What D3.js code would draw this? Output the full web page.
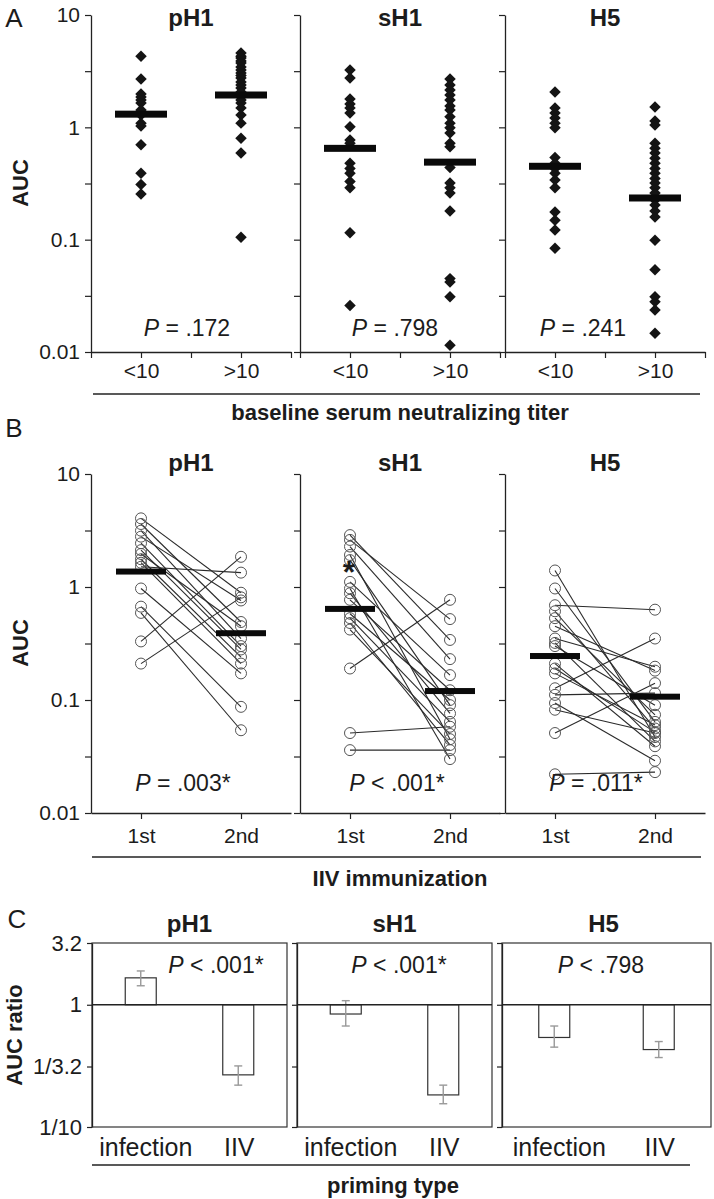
<!DOCTYPE html>
<html><head><meta charset="utf-8">
<script src="https://cdn.jsdelivr.net/npm/d3@7"></script>
<style>
body{margin:0;background:#fff}
svg text{font-family:"Liberation Sans",Arial,Helvetica,sans-serif;fill:#1c1c1c}
</style>
</head><body>
<svg id="chart" width="714" height="1199"></svg>
<script>
// ---------------- DATA ----------------
const strains = ["pH1", "sH1", "H5"];

// Panel A: AUC by baseline serum neutralizing titer
const aGroups = ["<10", ">10"];
const aLow_pH1  = [4.3, 2.69, 1.98, 1.86, 1.75, 1.65, 1.43, 1.29, 1.09, 1.03, 0.70, 0.39, 0.31, 0.255];
const aHigh_pH1 = [4.59, 4.3, 4.14, 3.9, 3.74, 3.44, 3.24, 3.05, 2.9, 2.75, 2.53, 2.38, 2.24, 2.06, 1.86, 1.75, 1.65, 1.49, 1.29, 1.09, 0.80, 0.59, 0.105];
const aLow_sH1  = [3.24, 2.75, 1.79, 1.61, 1.49, 1.34, 1.01, 0.77, 0.72, 0.48, 0.43, 0.39, 0.33, 0.29, 0.115, 0.026];
const aHigh_sH1 = [2.69, 2.38, 2.15, 1.94, 1.75, 1.55, 1.43, 1.24, 1.09, 0.99, 0.89, 0.72, 0.67, 0.44, 0.32, 0.29, 0.26, 0.18, 0.045, 0.042, 0.031, 0.0115];
const aLow_H5   = [2.06, 1.49, 1.34, 1.21, 1.09, 0.99, 0.54, 0.48, 0.43, 0.39, 0.34, 0.29, 0.176, 0.149, 0.122, 0.084];
const aHigh_H5  = [1.52, 1.14, 1.05, 0.72, 0.65, 0.59, 0.53, 0.48, 0.43, 0.39, 0.35, 0.32, 0.29, 0.26, 0.225, 0.203, 0.18, 0.159, 0.099, 0.054, 0.031, 0.028, 0.0236, 0.0147];
const aMedians  = [[1.31, 1.94], [0.65, 0.49], [0.45, 0.235]];
const aPvalues  = ["= .172", "= .798", "= .241"];

// Panel B: AUC after 1st and 2nd IIV immunization (paired by index)
const bGroups = ["1st", "2nd"];
const b1st_pH1 = [4.05, 3.61, 3.15, 2.79, 2.44, 2.12, 1.96, 1.76, 1.64, 1.51, 0.97, 0.67, 0.59, 0.33, 0.21];
const b2nd_pH1 = [0.89, 0.49, 0.35, 0.76, 0.30, 0.28, 0.45, 0.24, 0.21, 1.34, 0.172, 0.087, 0.054, 1.85, 0.81];
const b1st_sH1 = [2.88, 2.61, 2.28, 1.92, 1.73, 1.11, 0.97, 0.88, 0.77, 0.58, 0.53, 0.48, 0.42, 0.19, 0.051, 0.036];
const b2nd_sH1 = [0.34, 0.52, 0.23, 0.045, 0.09, 0.166, 0.030, 0.076, 0.122, 0.10, 0.064, 0.040, 0.050, 0.77, 0.058, 0.036];
const b1st_H5  = [1.40, 0.97, 0.69, 0.61, 0.53, 0.45, 0.35, 0.32, 0.30, 0.21, 0.19, 0.172, 0.127, 0.111, 0.094, 0.082, 0.051, 0.022];
const b2nd_H5  = [0.047, 0.064, 0.63, 0.056, 0.074, 0.182, 0.197, 0.043, 0.090, 0.039, 0.052, 0.060, 0.35, 0.115, 0.029, 0.051, 0.141, 0.023];
const bMedians = [[1.37, 0.39], [0.64, 0.12], [0.245, 0.107]];
const bPvalues = ["= .003*", "< .001*", "= .011*"];
const bAsterisk = [null, 1.55, null];

// Panel C: AUC ratio by priming type
const cGroups = ["infection", "IIV"];
const cRatio  = [[1.66, 0.267], [0.84, 0.183], [0.54, 0.43]];
const cErrHi  = [[1.89, 0.316], [1.08, 0.22], [0.67, 0.50]];
const cErrLo  = [[1.43, 0.22], [0.67, 0.155], [0.45, 0.37]];
const cPvalues = ["< .001*", "< .001*", "< .798"];

// Ticks
const logTicks = [10, 3.162, 1, 0.3162, 0.1, 0.03162, 0.01];
const logTickLabels = {"10": "10", "1": "1", "0.1": "0.1", "0.01": "0.01"};
const cTicks = [3.2, 1, 0.3125, 0.1];
const cTickLabels = ["3.2", "1", "1/3.2", "1/10"];

// ---------------- DRAWING ----------------
const svg = d3.select("#chart");
const FONT = '"Liberation Sans",Arial,sans-serif';
const panelX = [91, 300, 505];
const panelW = 200;
const pShiftA = [-4, -5, -22];
const pShiftB = [-8, -3, -9];

function styleAxis(g, labelSize) {
  g.selectAll("path.domain").attr("stroke", "#222").attr("stroke-width", 1.3);
  g.selectAll(".tick line").attr("stroke", "#222").attr("stroke-width", 1.2);
  g.selectAll(".tick text").attr("font-size", labelSize).attr("fill", "#1c1c1c").attr("font-family", FONT);
}

function pText(g, x, y, str, size) {
  const t = g.append("text").attr("x", x).attr("y", y).attr("text-anchor", "middle")
    .attr("font-size", size);
  t.append("tspan").attr("font-style", "italic").text("P");
  t.append("tspan").text(" " + str);
}

// ======== Panel A ========
const aData = [[aLow_pH1, aHigh_pH1], [aLow_sH1, aHigh_sH1], [aLow_H5, aHigh_H5]];
const yA = d3.scaleLog().domain([0.01, 10]).range([352, 15]);
strains.forEach((s, i) => {
  const x0 = panelX[i];
  const x = d3.scaleLinear().domain([0, 4]).range([x0, x0 + panelW]);
  const g = svg.append("g");
  const ya = g.append("g").attr("transform", `translate(${x0},0)`)
    .call(d3.axisLeft(yA).tickValues(logTicks).tickSize(6).tickSizeOuter(0).tickPadding(5)
      .tickFormat(d => i === 0 ? (logTickLabels[String(d)] || "") : ""));
  styleAxis(ya, 21);
  const xa = g.append("g").attr("transform", `translate(0,352)`)
    .call(d3.axisBottom(x).tickValues([0, 1, 2, 3, 4]).tickSize(6).tickSizeOuter(0).tickPadding(5)
      .tickFormat(d => d === 1 ? aGroups[0] : d === 3 ? aGroups[1] : ""));
  styleAxis(xa, 21);
  aData[i].forEach((arr, k) => {
    g.selectAll(null).data(arr).enter().append("path")
      .attr("d", d3.symbol(d3.symbolSquare, 66)())
      .attr("transform", d => `translate(${x(1 + 2 * k)},${yA(d)}) rotate(45)`)
      .attr("fill", "#141414");
    g.append("rect").attr("x", x(1 + 2 * k) - 26).attr("y", yA(aMedians[i][k]) - 3.5)
      .attr("width", 52).attr("height", 7).attr("fill", "#0a0a0a");
  });
  g.append("text").attr("x", x(2)).attr("y", 26).attr("text-anchor", "middle")
    .attr("font-size", 24).attr("font-weight", "bold").text(s);
  pText(g, x(2) + pShiftA[i], 336, aPvalues[i], 23);
});
svg.append("text").attr("x", 14).attr("y", 27).attr("text-anchor", "middle").attr("font-size", 26).text("A");
svg.append("text").attr("transform", "translate(28,183) rotate(-90)").attr("text-anchor", "middle")
  .attr("font-size", 22).attr("font-weight", "bold").text("AUC");
svg.append("line").attr("x1", 93).attr("x2", 700).attr("y1", 394).attr("y2", 394).attr("stroke", "#222").attr("stroke-width", 1.3);
svg.append("text").attr("x", 400).attr("y", 420).attr("text-anchor", "middle").attr("font-size", 22)
  .attr("font-weight", "bold").text("baseline serum neutralizing titer");

// ======== Panel B ========
const b1 = [b1st_pH1, b1st_sH1, b1st_H5];
const b2 = [b2nd_pH1, b2nd_sH1, b2nd_H5];
const yB = d3.scaleLog().domain([0.01, 10]).range([813, 474]);
strains.forEach((s, i) => {
  const x0 = panelX[i];
  const x = d3.scaleLinear().domain([0, 4]).range([x0, x0 + panelW]);
  const g = svg.append("g");
  const ya = g.append("g").attr("transform", `translate(${x0},0)`)
    .call(d3.axisLeft(yB).tickValues(logTicks).tickSize(6).tickSizeOuter(0).tickPadding(5)
      .tickFormat(d => i === 0 ? (logTickLabels[String(d)] || "") : ""));
  styleAxis(ya, 21);
  const xa = g.append("g").attr("transform", `translate(0,813)`)
    .call(d3.axisBottom(x).tickValues([1, 3]).tickSize(6).tickSizeOuter(0).tickPadding(9)
      .tickFormat(d => d === 1 ? bGroups[0] : bGroups[1]));
  styleAxis(xa, 21);
  const pairs = b1[i].map((v, j) => [v, b2[i][j]]);
  g.selectAll(null).data(pairs).enter().append("line")
    .attr("x1", x(1)).attr("x2", x(3))
    .attr("y1", d => yB(d[0])).attr("y2", d => yB(d[1]))
    .attr("stroke", "#2a2a2a").attr("stroke-width", 1.1);
  [b1[i], b2[i]].forEach((arr, k) => {
    g.selectAll(null).data(arr).enter().append("circle")
      .attr("cx", x(1 + 2 * k)).attr("cy", d => yB(d)).attr("r", 5.5)
      .attr("fill", "none").attr("stroke", "#555").attr("stroke-width", 1);
    g.append("rect").attr("x", x(1 + 2 * k) - 25).attr("y", yB(bMedians[i][k]) - 3)
      .attr("width", 50).attr("height", 6).attr("fill", "#0a0a0a");
  });
  if (bAsterisk[i] !== null) {
    g.append("text").attr("x", x(1) - 1).attr("y", yB(bAsterisk[i]) + 18).attr("text-anchor", "middle")
      .attr("font-size", 32).attr("font-weight", "bold").text("*");
  }
  g.append("text").attr("x", x(2)).attr("y", 471).attr("text-anchor", "middle")
    .attr("font-size", 24).attr("font-weight", "bold").text(s);
  pText(g, x(2) + pShiftB[i], 791, bPvalues[i], 23);
});
svg.append("text").attr("x", 14).attr("y", 437).attr("text-anchor", "middle").attr("font-size", 26).text("B");
svg.append("text").attr("transform", "translate(28,643) rotate(-90)").attr("text-anchor", "middle")
  .attr("font-size", 22).attr("font-weight", "bold").text("AUC");
svg.append("line").attr("x1", 92).attr("x2", 701).attr("y1", 857).attr("y2", 857).attr("stroke", "#222").attr("stroke-width", 1.3);
svg.append("text").attr("x", 400).attr("y", 886).attr("text-anchor", "middle").attr("font-size", 22)
  .attr("font-weight", "bold").text("IIV immunization");

// ======== Panel C ========
const boxX = [[92, 287], [297, 492], [502, 711]];
const pXC = [216, 399, 601];
const yC = d3.scaleLog().domain([0.1, 3.2]).range([1127, 943]);
strains.forEach((s, i) => {
  const [xl, xr] = boxX[i];
  const x = d3.scaleBand().domain(cGroups).range([xl, xr]).paddingInner(0.5).paddingOuter(0.25);
  const g = svg.append("g");
  g.append("rect").attr("x", xl).attr("y", yC(3.2)).attr("width", xr - xl).attr("height", yC(0.1) - yC(3.2))
    .attr("fill", "none").attr("stroke", "#333").attr("stroke-width", 1.2);
  const ya = g.append("g").attr("transform", `translate(${xl},0)`)
    .call(d3.axisLeft(yC).tickValues(cTicks).tickSize(5).tickSizeOuter(0).tickPadding(5)
      .tickFormat((d, j) => i === 0 ? cTickLabels[j] : ""));
  styleAxis(ya, 22);
  const bw = 31;
  cGroups.forEach((c, k) => {
    const cx = x(c) + x.bandwidth() / 2;
    const v = cRatio[i][k];
    g.append("rect").attr("x", cx - bw / 2).attr("y", Math.min(yC(v), yC(1)))
      .attr("width", bw).attr("height", Math.abs(yC(v) - yC(1)))
      .attr("fill", "#fff").attr("stroke", "#333").attr("stroke-width", 1.2);
    const eg = g.append("g").attr("stroke", "#999").attr("stroke-width", 1.4);
    eg.append("line").attr("x1", cx).attr("x2", cx).attr("y1", yC(cErrHi[i][k])).attr("y2", yC(cErrLo[i][k]));
    eg.append("line").attr("x1", cx - 4).attr("x2", cx + 4).attr("y1", yC(cErrHi[i][k])).attr("y2", yC(cErrHi[i][k]));
    eg.append("line").attr("x1", cx - 4).attr("x2", cx + 4).attr("y1", yC(cErrLo[i][k])).attr("y2", yC(cErrLo[i][k]));
    g.append("text").attr("x", cx + (k === 0 ? 5 : 1)).attr("y", 1156).attr("text-anchor", "middle")
      .attr("font-size", 25).text(c);
  });
  g.append("line").attr("x1", xl).attr("x2", xr).attr("y1", yC(1)).attr("y2", yC(1))
    .attr("stroke", "#222").attr("stroke-width", 1.3);
  g.append("text").attr("x", (xl + xr) / 2 + (i === 2 ? -3 : 0)).attr("y", 932).attr("text-anchor", "middle")
    .attr("font-size", 24).attr("font-weight", "bold").text(s);
  pText(g, pXC[i], 973, cPvalues[i], 23);
});
svg.append("text").attr("x", 17).attr("y", 928).attr("text-anchor", "middle").attr("font-size", 26).text("C");
svg.append("text").attr("transform", "translate(22,1035) rotate(-90)").attr("text-anchor", "middle")
  .attr("font-size", 22).attr("font-weight", "bold").text("AUC ratio");
svg.append("line").attr("x1", 92).attr("x2", 690).attr("y1", 1165).attr("y2", 1165).attr("stroke", "#222").attr("stroke-width", 1.3);
svg.append("text").attr("x", 393).attr("y", 1193).attr("text-anchor", "middle").attr("font-size", 22)
  .attr("font-weight", "bold").text("priming type");
</script>
</body></html>
